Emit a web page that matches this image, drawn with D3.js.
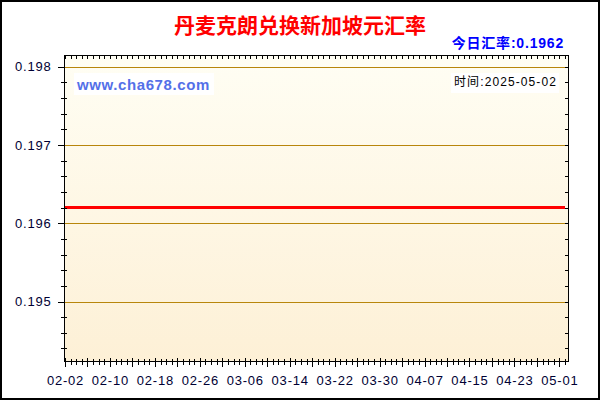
<!DOCTYPE html>
<html>
<head>
<meta charset="utf-8">
<script src="https://cdn.jsdelivr.net/npm/d3@7"></script>
<style>
    body { margin: 0; background: #ffffff; }
    svg { display: block; }
</style>
</head>
<body>
<div id="chart"></div>
<script>

// --- Daten ---------------------------------------------------------------------------------- //

var startDate = '2025-02-02';
var endDate = '2025-05-02';

// ein Wert pro Tag, 02-02 bis 05-02
var rateValues = [
    0.1962, 0.1962, 0.1962, 0.1962, 0.1962, 0.1962, 0.1962, 0.1962, 0.1962, 0.1962,
    0.1962, 0.1962, 0.1962, 0.1962, 0.1962, 0.1962, 0.1962, 0.1962, 0.1962, 0.1962,
    0.1962, 0.1962, 0.1962, 0.1962, 0.1962, 0.1962, 0.1962, 0.1962, 0.1962, 0.1962,
    0.1962, 0.1962, 0.1962, 0.1962, 0.1962, 0.1962, 0.1962, 0.1962, 0.1962, 0.1962,
    0.1962, 0.1962, 0.1962, 0.1962, 0.1962, 0.1962, 0.1962, 0.1962, 0.1962, 0.1962,
    0.1962, 0.1962, 0.1962, 0.1962, 0.1962, 0.1962, 0.1962, 0.1962, 0.1962, 0.1962,
    0.1962, 0.1962, 0.1962, 0.1962, 0.1962, 0.1962, 0.1962, 0.1962, 0.1962, 0.1962,
    0.1962, 0.1962, 0.1962, 0.1962, 0.1962, 0.1962, 0.1962, 0.1962, 0.1962, 0.1962,
    0.1962, 0.1962, 0.1962, 0.1962, 0.1962, 0.1962, 0.1962, 0.1962, 0.1962, 0.1962
];

var xTickLabels = ['02-02', '02-10', '02-18', '02-26', '03-06', '03-14', '03-22', '03-30', '04-07', '04-15', '04-23', '05-01'];
var yTickValues = [0.195, 0.196, 0.197, 0.198];
var yDomain = [0.19424, 0.19815];

var titleText = '丹麦克朗兑换新加坡元汇率';
var todayText = '今日汇率:0.1962';
var siteText = 'www.cha678.com';
var dateText = '时间:2025-05-02';


// --- Grundgeruest --------------------------------------------------------------------------- //

var W = 600, H = 400;
var plot = { left: 64, top: 55, right: 568, bottom: 361 };
var labelFont = '"Liberation Sans", Arial, sans-serif';
var cjkFont = '"Liberation Sans", Arial, "Noto Sans CJK SC", sans-serif';

var parseDay = d3.utcParse('%Y-%m-%d');
var dates = d3.utcDay.range(parseDay(startDate), d3.utcDay.offset(parseDay(endDate), 1));
var data = dates.map(function (d, i) { return { date: d, value: rateValues[i] }; });

var svg = d3.select('#chart').append('svg')
    .attr('width', W)
    .attr('height', H);

var defs = svg.append('defs');
var grad = defs.append('linearGradient')
    .attr('id', 'bg')
    .attr('x1', 0).attr('y1', 0).attr('x2', 0).attr('y2', 1);
grad.append('stop').attr('offset', '0%').attr('stop-color', '#fffef4');
grad.append('stop').attr('offset', '100%').attr('stop-color', '#fdf0d6');

// Rahmen aussen
svg.append('rect')
    .attr('x', 1).attr('y', 1)
    .attr('width', W - 2).attr('height', H - 2)
    .attr('fill', '#ffffff')
    .attr('stroke', '#000000')
    .attr('stroke-width', 2);

// Plotflaeche
svg.append('rect')
    .attr('x', plot.left).attr('y', plot.top)
    .attr('width', plot.right - plot.left).attr('height', plot.bottom - plot.top)
    .attr('fill', 'url(#bg)');


// --- Skalen --------------------------------------------------------------------------------- //

var x = d3.scaleUtc()
    .domain([dates[0], dates[dates.length - 1]])
    .range([65, 565]);

var y = d3.scaleLinear()
    .domain(yDomain)
    .range([plot.bottom, plot.top]);

var dayTicks = d3.utcDay.range(parseDay(startDate), d3.utcDay.offset(parseDay(endDate), 1));
var yMinor = d3.range(0, 20).map(function (k) { return +(0.1944 + k * 0.0002).toFixed(4); })
    .filter(function (v) { return v >= yDomain[0] && v <= yDomain[1]; });


// --- Gitter --------------------------------------------------------------------------------- //

svg.append('g').selectAll('line')
    .data(yTickValues)
    .enter().append('line')
    .attr('x1', plot.left).attr('x2', plot.right)
    .attr('y1', function (d) { return Math.round(y(d)) + 0.5; })
    .attr('y2', function (d) { return Math.round(y(d)) + 0.5; })
    .attr('stroke', '#b8860b')
    .attr('stroke-width', 1);


// --- Wasserzeichen -------------------------------------------------------------------------- //

svg.append('rect')
    .attr('x', 74).attr('y', 73).attr('width', 140).attr('height', 22)
    .attr('fill', '#ffffff');

svg.append('text')
    .attr('x', 77).attr('y', 90)
    .attr('fill', '#5470e8')
    .style('font-family', labelFont)
    .style('font-size', '15px')
    .style('font-weight', 'bold')
    .style('letter-spacing', '0.6px')
    .text(siteText);

svg.append('rect')
    .attr('x', 451).attr('y', 73).attr('width', 108).attr('height', 20)
    .attr('fill', '#ffffff');

svg.append('text')
    .attr('x', 454).attr('y', 86)
    .attr('fill', '#000000')
    .style('font-family', cjkFont)
    .style('font-size', '12px')
    .style('letter-spacing', '1.1px')
    .text(dateText);


// --- Linie ---------------------------------------------------------------------------------- //

var line = d3.line()
    .x(function (d) { return x(d.date); })
    .y(function (d) { return y(d.value); });

svg.append('path')
    .datum(data)
    .attr('d', line)
    .attr('fill', 'none')
    .attr('stroke', '#ff0000')
    .attr('stroke-width', 3);


// --- Achsen --------------------------------------------------------------------------------- //

var axes = svg.append('g')
    .attr('stroke', '#000000')
    .attr('stroke-width', 1)
    .attr('shape-rendering', 'crispEdges');

axes.append('rect')
    .attr('x', plot.left + 0.5).attr('y', plot.top + 0.5)
    .attr('width', plot.right - plot.left).attr('height', plot.bottom - plot.top)
    .attr('fill', 'none');

// unten: taeglich, jeder 4. Tag laenger
axes.selectAll('.xb')
    .data(dayTicks)
    .enter().append('line')
    .attr('class', 'xb')
    .attr('x1', function (d) { return Math.round(x(d)) + 0.5; })
    .attr('x2', function (d) { return Math.round(x(d)) + 0.5; })
    .attr('y1', function (d, i) { return plot.bottom - (i % 4 == 0 ? 3 : 2); })
    .attr('y2', function (d, i) { return plot.bottom + (i % 4 == 0 ? 5.5 : 3.5); });

// oben: taeglich, nach innen
axes.selectAll('.xt')
    .data(dayTicks)
    .enter().append('line')
    .attr('class', 'xt')
    .attr('x1', function (d) { return Math.round(x(d)) + 0.5; })
    .attr('x2', function (d) { return Math.round(x(d)) + 0.5; })
    .attr('y1', plot.top)
    .attr('y2', plot.top + 4);

// links
axes.selectAll('.yl')
    .data(yMinor)
    .enter().append('line')
    .attr('class', 'yl')
    .attr('x1', function (d) { return yTickValues.indexOf(d) >= 0 ? plot.left - 6 : plot.left - 3; })
    .attr('x2', function (d) { return yTickValues.indexOf(d) >= 0 ? plot.left + 1 : plot.left + 3; })
    .attr('y1', function (d) { return Math.round(y(d)) + 0.5; })
    .attr('y2', function (d) { return Math.round(y(d)) + 0.5; });

// rechts, nach innen
axes.selectAll('.yr')
    .data(yMinor)
    .enter().append('line')
    .attr('class', 'yr')
    .attr('x1', plot.right - 3)
    .attr('x2', plot.right + 1)
    .attr('y1', function (d) { return Math.round(y(d)) + 0.5; })
    .attr('y2', function (d) { return Math.round(y(d)) + 0.5; });


// --- Beschriftung --------------------------------------------------------------------------- //

svg.append('g').selectAll('text')
    .data(yTickValues)
    .enter().append('text')
    .attr('x', 51.5)
    .attr('y', function (d) { return y(d) + 4.5; })
    .attr('text-anchor', 'end')
    .attr('fill', '#000033')
    .style('font-family', labelFont)
    .style('font-size', '13px')
    .style('letter-spacing', '0.8px')
    .text(function (d) { return d3.format('.3f')(d); });

svg.append('g').selectAll('text')
    .data(xTickLabels)
    .enter().append('text')
    .attr('x', function (d) { return x(parseDay('2025-' + d)) + 0.5; })
    .attr('y', 384.5)
    .attr('text-anchor', 'middle')
    .attr('fill', '#000033')
    .style('font-family', labelFont)
    .style('font-size', '13px')
    .style('letter-spacing', '0.8px')
    .text(function (d) { return d; });

svg.append('text')
    .attr('x', 300).attr('y', 33)
    .attr('text-anchor', 'middle')
    .attr('fill', '#ff0000')
    .style('font-family', '"Noto Sans CJK SC", sans-serif')
    .style('font-size', '21px')
    .style('font-weight', 'bold')
    .text(titleText);

svg.append('text')
    .attr('x', 564).attr('y', 47.5)
    .attr('text-anchor', 'end')
    .attr('fill', '#0000ff')
    .style('font-family', cjkFont)
    .style('font-size', '14px')
    .style('font-weight', 'bold')
    .style('letter-spacing', '0.8px')
    .text(todayText);

</script>
</body>
</html>
